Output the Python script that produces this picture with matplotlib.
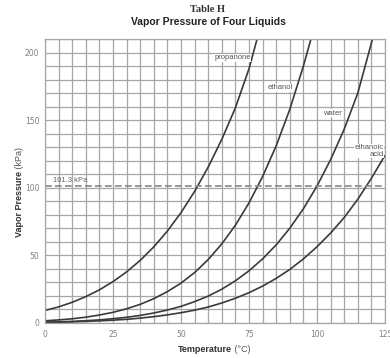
import matplotlib
matplotlib.use("Agg")
import matplotlib.pyplot as plt
import numpy as np

temps = [0, 5, 10, 15, 20, 25, 30, 35, 40, 45, 50, 55, 60, 65, 70, 75, 80, 85, 90, 95, 100, 105, 110, 115, 120, 125]
propanone_t = temps[:17]
propanone = [9.3, 11.9, 15.3, 19.5, 24.5, 30.6, 37.8, 46.3, 56.3, 68.0, 81.6, 97.3, 115.3, 135.8, 159.1, 188.0, 225.0]
ethanol_t = temps[:21]
ethanol = [1.6, 2.3, 3.1, 4.3, 5.9, 7.9, 10.5, 13.8, 18.0, 23.2, 29.5, 37.3, 46.9, 58.5, 72.3, 88.8, 108.3, 131.0, 158.0, 190.0, 226.0]
water_t = temps
water = [0.6, 0.9, 1.2, 1.7, 2.3, 3.2, 4.2, 5.6, 7.4, 9.6, 12.3, 15.8, 19.9, 25.0, 31.2, 38.6, 47.4, 57.8, 70.1, 84.5, 101.3, 120.8, 143.3, 170.0, 207.0, 245.0]
acid_t = temps
acid = [0.4, 0.6, 0.8, 1.2, 1.6, 2.1, 2.7, 3.6, 4.7, 6.0, 7.6, 9.5, 11.8, 14.8, 18.3, 22.4, 27.3, 33.0, 39.6, 47.4, 56.4, 66.5, 78.0, 91.5, 107.0, 124.0]

labels = ["propanone", "ethanol", "water", "ethanoic\nacid"]
label_pos = [(69, 196), (86.5, 174), (105.5, 155), (124.5, 127)]
atm = 101.3
xticks = [0, 25, 50, 75, 100, 125]
yticks = [0, 50, 100, 150, 200]

fig = plt.figure(figsize=(3.9, 3.58), dpi=100)
ax = fig.add_axes([45/390, 1-323/358, 340/390, 284/358])
ax.set_xlim(0, 125)
ax.set_ylim(0, 210)
ax.set_xticks(np.arange(0, 126, 5), minor=True)
ax.set_yticks(np.arange(0, 211, 10), minor=True)
ax.grid(True, which="both", color="#a6a6a6", lw=0.9)
ax.set_axisbelow(True)
ax.set_xticks(xticks)
ax.set_yticks(yticks)
ax.tick_params(which="both", length=0, labelsize=5.5, labelcolor="#808080")
ax.tick_params(axis="x", pad=5)
ax.tick_params(axis="y", pad=4)
for s in ax.spines.values():
    s.set_color("#a6a6a6")
    s.set_linewidth(0.9)

lc = "#3a3a3a"
for t, v in [(propanone_t, propanone), (ethanol_t, ethanol), (water_t, water), (acid_t, acid)]:
    ax.plot(t, v, color=lc, lw=1.2, solid_capstyle="butt")

ax.axhline(atm, color="#888888", lw=1.2, ls=(0, (4, 2)))
ax.text(3, 103, "101.3 kPa", fontsize=5.5, color="#666666", family="Liberation Sans", va="bottom")

for (x, y), lab in zip(label_pos, labels):
    ax.text(x, y, lab, fontsize=5.5, color="#555555", family="Liberation Sans",
            ha="center" if "\n" not in lab else "right", va="center",
            linespacing=0.9, multialignment="right",
            bbox=dict(facecolor="white", edgecolor="none", pad=0.3))

fig.text(208/390, 1-10/358, "Table H", fontsize=7.5, family="Liberation Serif", weight="bold",
         ha="center", va="center", color="#333333")
fig.text(208/390, 1-22/358, "Vapor Pressure of Four Liquids", fontsize=7.5, family="Liberation Sans",
         weight="bold", ha="center", va="center", color="#222222")

t1 = fig.text(178/390, 1-350/358, "Temperature", fontsize=6.5, family="Liberation Sans",
              weight="bold", ha="left", va="center", color="#333333")
ax.annotate(" (°C)", xy=(1, 0), xycoords=t1, fontsize=6.5, family="Liberation Sans",
            color="#555555", ha="left", va="bottom")
t2 = fig.text(20/390, 1-237/358, "Vapor Pressure", fontsize=6.5, family="Liberation Sans",
              weight="bold", rotation=90, ha="center", va="bottom", color="#333333")
ax.annotate(" (kPa)", xy=(0, 1), xycoords=t2, fontsize=6.5, family="Liberation Sans",
            color="#555555", rotation=90, ha="left", va="bottom")

fig.savefig("out.png", dpi=100, facecolor="white")
